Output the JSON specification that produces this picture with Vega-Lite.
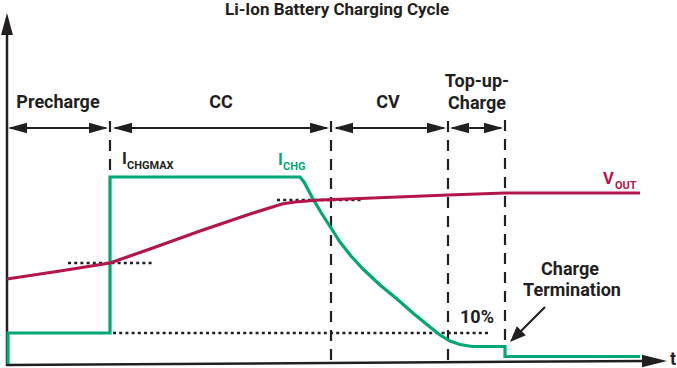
{
  "$schema": "https://vega.github.io/schema/vega-lite/v6.json",
  "width": 677,
  "height": 368,
  "autosize": {"type": "none"},
  "padding": 0,
  "background": "white",
  "config": {"view": {"stroke": null}, "text": {"font": "Roboto", "fontWeight": "bold"}},
  "datasets": {
    "segs": [
      {"kind": "axis", "x": 7, "y": 366, "x2": 7, "y2": 30},
      {"kind": "axis", "x": 6, "y": 365, "x2": 648, "y2": 361},
      {"kind": "shaft", "x": 10, "y": 128, "x2": 106, "y2": 128},
      {"kind": "shaft", "x": 115, "y": 128, "x2": 327, "y2": 128},
      {"kind": "shaft", "x": 336, "y": 128, "x2": 444, "y2": 128},
      {"kind": "shaft", "x": 452, "y": 128, "x2": 501, "y2": 128},
      {"kind": "shaft", "x": 545, "y": 307, "x2": 520, "y2": 332},
      {"kind": "dashed", "x": 110, "y": 121, "x2": 110, "y2": 177},
      {"kind": "dashed", "x": 331, "y": 121, "x2": 331, "y2": 362},
      {"kind": "dashed", "x": 448, "y": 121, "x2": 448, "y2": 362},
      {"kind": "dashed", "x": 505, "y": 120, "x2": 505, "y2": 346},
      {"kind": "dotted", "x": 68, "y": 263, "x2": 153, "y2": 263},
      {"kind": "dotted", "x": 113, "y": 333, "x2": 490, "y2": 333},
      {"kind": "dotted", "x": 277, "y": 200, "x2": 362, "y2": 200}
    ],
    "heads": [
      {"dir": "left", "x": 8, "y": 128},
      {"dir": "right", "x": 108, "y": 128},
      {"dir": "left", "x": 113, "y": 128},
      {"dir": "right", "x": 329, "y": 128},
      {"dir": "left", "x": 334, "y": 128},
      {"dir": "right", "x": 446, "y": 128},
      {"dir": "left", "x": 450, "y": 128},
      {"dir": "right", "x": 503, "y": 128},
      {"dir": "up", "x": 7, "y": 13},
      {"dir": "xaxis", "x": 667, "y": 361},
      {"dir": "downleft", "x": 510, "y": 342}
    ],
    "curves": [
      {"series": "ICHG", "i": 1, "x": 8, "y": 364},
      {"series": "ICHG", "i": 2, "x": 8, "y": 333},
      {"series": "ICHG", "i": 3, "x": 110, "y": 333},
      {"series": "ICHG", "i": 4, "x": 110, "y": 177},
      {"series": "ICHG", "i": 5, "x": 300, "y": 177},
      {"series": "ICHG", "i": 6, "x": 304, "y": 182},
      {"series": "ICHG", "i": 7, "x": 313, "y": 199},
      {"series": "ICHG", "i": 8, "x": 322, "y": 214},
      {"series": "ICHG", "i": 9, "x": 331, "y": 228},
      {"series": "ICHG", "i": 10, "x": 340, "y": 242},
      {"series": "ICHG", "i": 11, "x": 351, "y": 256},
      {"series": "ICHG", "i": 12, "x": 363, "y": 269},
      {"series": "ICHG", "i": 13, "x": 380, "y": 285},
      {"series": "ICHG", "i": 14, "x": 397, "y": 299},
      {"series": "ICHG", "i": 15, "x": 414, "y": 314},
      {"series": "ICHG", "i": 16, "x": 430, "y": 327},
      {"series": "ICHG", "i": 17, "x": 440, "y": 335},
      {"series": "ICHG", "i": 18, "x": 450, "y": 341},
      {"series": "ICHG", "i": 19, "x": 460, "y": 344.5},
      {"series": "ICHG", "i": 20, "x": 472, "y": 346.5},
      {"series": "ICHG", "i": 21, "x": 505, "y": 346.5},
      {"series": "ICHG", "i": 22, "x": 505, "y": 356.5},
      {"series": "ICHG", "i": 23, "x": 640, "y": 356.5},
      {"series": "VOUT", "i": 1, "x": 7, "y": 279},
      {"series": "VOUT", "i": 2, "x": 60, "y": 271},
      {"series": "VOUT", "i": 3, "x": 110, "y": 263},
      {"series": "VOUT", "i": 4, "x": 150, "y": 249},
      {"series": "VOUT", "i": 5, "x": 200, "y": 231},
      {"series": "VOUT", "i": 6, "x": 250, "y": 214},
      {"series": "VOUT", "i": 7, "x": 282, "y": 204},
      {"series": "VOUT", "i": 8, "x": 295, "y": 202},
      {"series": "VOUT", "i": 9, "x": 320, "y": 200},
      {"series": "VOUT", "i": 10, "x": 360, "y": 198.5},
      {"series": "VOUT", "i": 11, "x": 448, "y": 195},
      {"series": "VOUT", "i": 12, "x": 505, "y": 193},
      {"series": "VOUT", "i": 13, "x": 640, "y": 193}
    ],
    "labels": [
      {"kind": "title", "text": "Li-Ion Battery Charging Cycle", "x": 337, "y": 10},
      {"kind": "big", "text": "Precharge", "x": 58, "y": 103},
      {"kind": "big", "text": "CC", "x": 221, "y": 103},
      {"kind": "big", "text": "CV", "x": 388, "y": 103},
      {"kind": "big", "text": "Top-up-", "x": 477, "y": 82},
      {"kind": "big", "text": "Charge", "x": 477, "y": 104},
      {"kind": "big", "text": "10%", "x": 477, "y": 318},
      {"kind": "big", "text": "Charge", "x": 570, "y": 270},
      {"kind": "big", "text": "Termination", "x": 572, "y": 291},
      {"kind": "big", "text": "t", "x": 673, "y": 360}
    ],
    "symbols": [
      {"series": "BLACK", "main": "I", "sub": "CHGMAX", "x": 122, "y": 164, "xs": 127, "ys": 169},
      {"series": "ICHG", "main": "I", "sub": "CHG", "x": 278, "y": 165, "xs": 283, "ys": 170},
      {"series": "VOUT", "main": "V", "sub": "OUT", "x": 603, "y": 184, "xs": 615, "ys": 189}
    ]
  },
  "layer": [
    {
      "data": {"name": "segs"},
      "transform": [{"filter": "datum.kind === 'axis'"}],
      "mark": {"type": "rule", "color": "#231f20", "strokeWidth": 2.5},
      "encoding": {
        "x": {"field": "x", "type": "quantitative", "scale": {"domain": [0, 677], "nice": false, "zero": false}, "axis": null},
        "y": {"field": "y", "type": "quantitative", "scale": {"domain": [0, 368], "nice": false, "zero": false, "reverse": true}, "axis": null},
        "x2": {"field": "x2"},
        "y2": {"field": "y2"}
      }
    },
    {
      "data": {"name": "segs"},
      "transform": [{"filter": "datum.kind === 'shaft'"}],
      "mark": {"type": "rule", "color": "#231f20", "strokeWidth": 2.2},
      "encoding": {
        "x": {"field": "x", "type": "quantitative"},
        "y": {"field": "y", "type": "quantitative"},
        "x2": {"field": "x2"},
        "y2": {"field": "y2"}
      }
    },
    {
      "data": {"name": "segs"},
      "transform": [{"filter": "datum.kind === 'dashed'"}],
      "mark": {"type": "rule", "color": "#231f20", "strokeWidth": 2.2, "strokeDash": [11, 8]},
      "encoding": {
        "x": {"field": "x", "type": "quantitative"},
        "y": {"field": "y", "type": "quantitative"},
        "x2": {"field": "x2"},
        "y2": {"field": "y2"}
      }
    },
    {
      "data": {"name": "segs"},
      "transform": [{"filter": "datum.kind === 'dotted'"}],
      "mark": {"type": "rule", "color": "#231f20", "strokeWidth": 2.5, "strokeDash": [3, 3.2]},
      "encoding": {
        "x": {"field": "x", "type": "quantitative"},
        "y": {"field": "y", "type": "quantitative"},
        "x2": {"field": "x2"},
        "y2": {"field": "y2"}
      }
    },
    {
      "data": {"name": "curves"},
      "mark": {"type": "line", "strokeWidth": 3.2, "strokeJoin": "miter"},
      "encoding": {
        "x": {"field": "x", "type": "quantitative"},
        "y": {"field": "y", "type": "quantitative"},
        "order": {"field": "i", "type": "quantitative"},
        "color": {"field": "series", "type": "nominal", "scale": {"domain": ["ICHG", "VOUT", "BLACK"], "range": ["#00a876", "#b5164a", "#231f20"]}, "legend": null}
      }
    },
    {
      "data": {"name": "heads"},
      "transform": [{"filter": "datum.dir === 'right'"}],
      "mark": {"type": "point", "shape": "M0,0L-1,-0.27L-1,0.27Z", "size": 1444, "filled": true, "color": "#231f20", "opacity": 1, "strokeWidth": 0},
      "encoding": {"x": {"field": "x", "type": "quantitative"}, "y": {"field": "y", "type": "quantitative"}}
    },
    {
      "data": {"name": "heads"},
      "transform": [{"filter": "datum.dir === 'left'"}],
      "mark": {"type": "point", "shape": "M0,0L1,-0.27L1,0.27Z", "size": 1444, "filled": true, "color": "#231f20", "opacity": 1, "strokeWidth": 0},
      "encoding": {"x": {"field": "x", "type": "quantitative"}, "y": {"field": "y", "type": "quantitative"}}
    },
    {
      "data": {"name": "heads"},
      "transform": [{"filter": "datum.dir === 'up'"}],
      "mark": {"type": "point", "shape": "M0,0L-0.27,1L0.27,1Z", "size": 1936, "filled": true, "color": "#231f20", "opacity": 1, "strokeWidth": 0},
      "encoding": {"x": {"field": "x", "type": "quantitative"}, "y": {"field": "y", "type": "quantitative"}}
    },
    {
      "data": {"name": "heads"},
      "transform": [{"filter": "datum.dir === 'xaxis'"}],
      "mark": {"type": "point", "shape": "M0,0L-1,-0.25L-1,0.25Z", "size": 2500, "filled": true, "color": "#231f20", "opacity": 1, "strokeWidth": 0},
      "encoding": {"x": {"field": "x", "type": "quantitative"}, "y": {"field": "y", "type": "quantitative"}}
    },
    {
      "data": {"name": "heads"},
      "transform": [{"filter": "datum.dir === 'downleft'"}],
      "mark": {"type": "point", "shape": "M0,0L0.99,-0.424L0.424,-0.99Z", "size": 1024, "filled": true, "color": "#231f20", "opacity": 1, "strokeWidth": 0},
      "encoding": {"x": {"field": "x", "type": "quantitative"}, "y": {"field": "y", "type": "quantitative"}}
    },
    {
      "data": {"name": "labels"},
      "transform": [{"filter": "datum.kind === 'title'"}],
      "mark": {"type": "text", "fontSize": 17, "color": "#231f20", "align": "center", "baseline": "middle"},
      "encoding": {"x": {"field": "x", "type": "quantitative"}, "y": {"field": "y", "type": "quantitative"}, "text": {"field": "text"}}
    },
    {
      "data": {"name": "labels"},
      "transform": [{"filter": "datum.kind === 'big'"}],
      "mark": {"type": "text", "fontSize": 18, "color": "#231f20", "align": "center", "baseline": "middle"},
      "encoding": {"x": {"field": "x", "type": "quantitative"}, "y": {"field": "y", "type": "quantitative"}, "text": {"field": "text"}}
    },
    {
      "data": {"name": "symbols"},
      "mark": {"type": "text", "fontSize": 16.5, "align": "left", "baseline": "alphabetic"},
      "encoding": {
        "x": {"field": "x", "type": "quantitative"},
        "y": {"field": "y", "type": "quantitative"},
        "text": {"field": "main"},
        "color": {"field": "series", "type": "nominal", "legend": null}
      }
    },
    {
      "data": {"name": "symbols"},
      "mark": {"type": "text", "fontSize": 11, "align": "left", "baseline": "alphabetic"},
      "encoding": {
        "x": {"field": "xs", "type": "quantitative"},
        "y": {"field": "ys", "type": "quantitative"},
        "text": {"field": "sub"},
        "color": {"field": "series", "type": "nominal", "legend": null}
      }
    }
  ]
}
